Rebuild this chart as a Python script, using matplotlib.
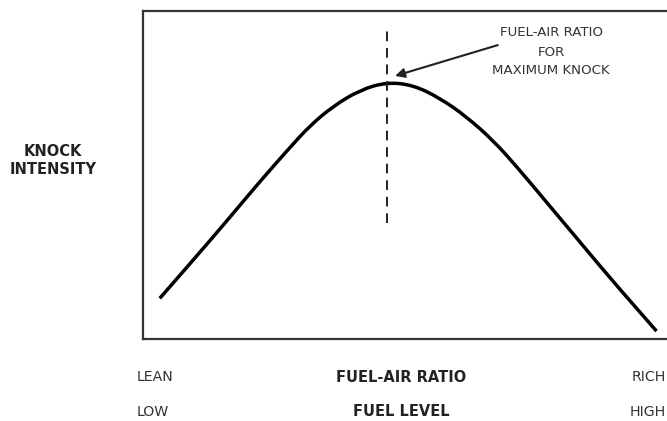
import matplotlib
matplotlib.use("Agg")
import matplotlib.pyplot as plt
from matplotlib.path import Path
from matplotlib.patches import PathPatch

# Curve (x: fuel-air ratio 0..100 lean->rich, y: knock intensity 0..100)
fuel_air = [3.2, 9.6, 16.0, 22.3, 28.1, 31.9, 36.3, 41.4, 46.5, 51.6, 56.7, 61.8, 66.9, 71.3, 77.7, 84.0, 90.4, 98.0]
knock = [12.4, 24.1, 36.0, 48.0, 58.5, 65.1, 71.0, 75.9, 78.3, 77.4, 73.4, 67.7, 60.4, 52.6, 40.4, 28.4, 16.2, 2.4]

peak_x = 46.5
dash_y = [35.4, 94.2]
arrow_tail = (67.7, 89.6)
arrow_head = (48.1, 80.2)

annot_lines = ["FUEL-AIR RATIO", "FOR", "MAXIMUM KNOCK"]
ylabel_lines = ["KNOCK", "INTENSITY"]
row1 = ["LEAN", "FUEL-AIR RATIO", "RICH"]
row2 = ["LOW", "FUEL LEVEL", "HIGH"]

W, H = 667, 421
fig = plt.figure(figsize=(W / 100, H / 100), dpi=100)
fig.patch.set_facecolor("white")

def fx(px):
    return px / W

def fy(py):
    return 1 - py / H

ax = fig.add_axes([fx(143), fy(339), (W - 143) / W, (339 - 11) / H])
ax.set_xlim(0, 100)
ax.set_ylim(0, 100)
ax.set_xticks([])
ax.set_yticks([])
for s in ["top", "bottom", "left"]:
    ax.spines[s].set_color("#333333")
    ax.spines[s].set_linewidth(1.6)
ax.spines["right"].set_visible(False)

# Smooth rendering of the read points: quadratic Bezier segments with the
# read points as control points and midpoints as joins.
pts = list(zip(fuel_air, knock))
verts = [pts[0]]
codes = [Path.MOVETO]
for i in range(1, len(pts) - 1):
    mid = ((pts[i][0] + pts[i + 1][0]) / 2, (pts[i][1] + pts[i + 1][1]) / 2)
    if i == len(pts) - 2:
        mid = pts[-1]
    verts += [pts[i], mid]
    codes += [Path.CURVE3, Path.CURVE3]
curve = PathPatch(Path(verts, codes), facecolor="none", edgecolor="black",
                  lw=2.5, capstyle="butt", joinstyle="round")
ax.add_patch(curve)

ax.plot([peak_x, peak_x], dash_y, color="#222222", lw=1.4, linestyle=(0, (5, 3.5)))
ax.annotate("", xy=arrow_head, xytext=arrow_tail,
            arrowprops=dict(arrowstyle="-|>", color="#222222", lw=1.5,
                            mutation_scale=14, shrinkA=0, shrinkB=0))

tc = "#333333"
for txt, py in zip(annot_lines, [32, 52, 71]):
    fig.text(fx(551), fy(py), txt, ha="center", va="center", fontsize=9.6, color=tc)

for txt, py in zip(ylabel_lines, [151, 170]):
    fig.text(fx(53), fy(py), txt, ha="center", va="center", fontsize=10.5,
             fontweight="bold", color="#222222")

for row, py in zip([row1, row2], [377, 412]):
    fig.text(fx(137), fy(py), row[0], ha="left", va="center", fontsize=10.2, color=tc)
    fig.text(fx(401), fy(py), row[1], ha="center", va="center", fontsize=10.5,
             fontweight="bold", color="#222222")
    fig.text(fx(666), fy(py), row[2], ha="right", va="center", fontsize=10.2, color=tc)

fig.savefig("out.png", dpi=100, facecolor="white")
